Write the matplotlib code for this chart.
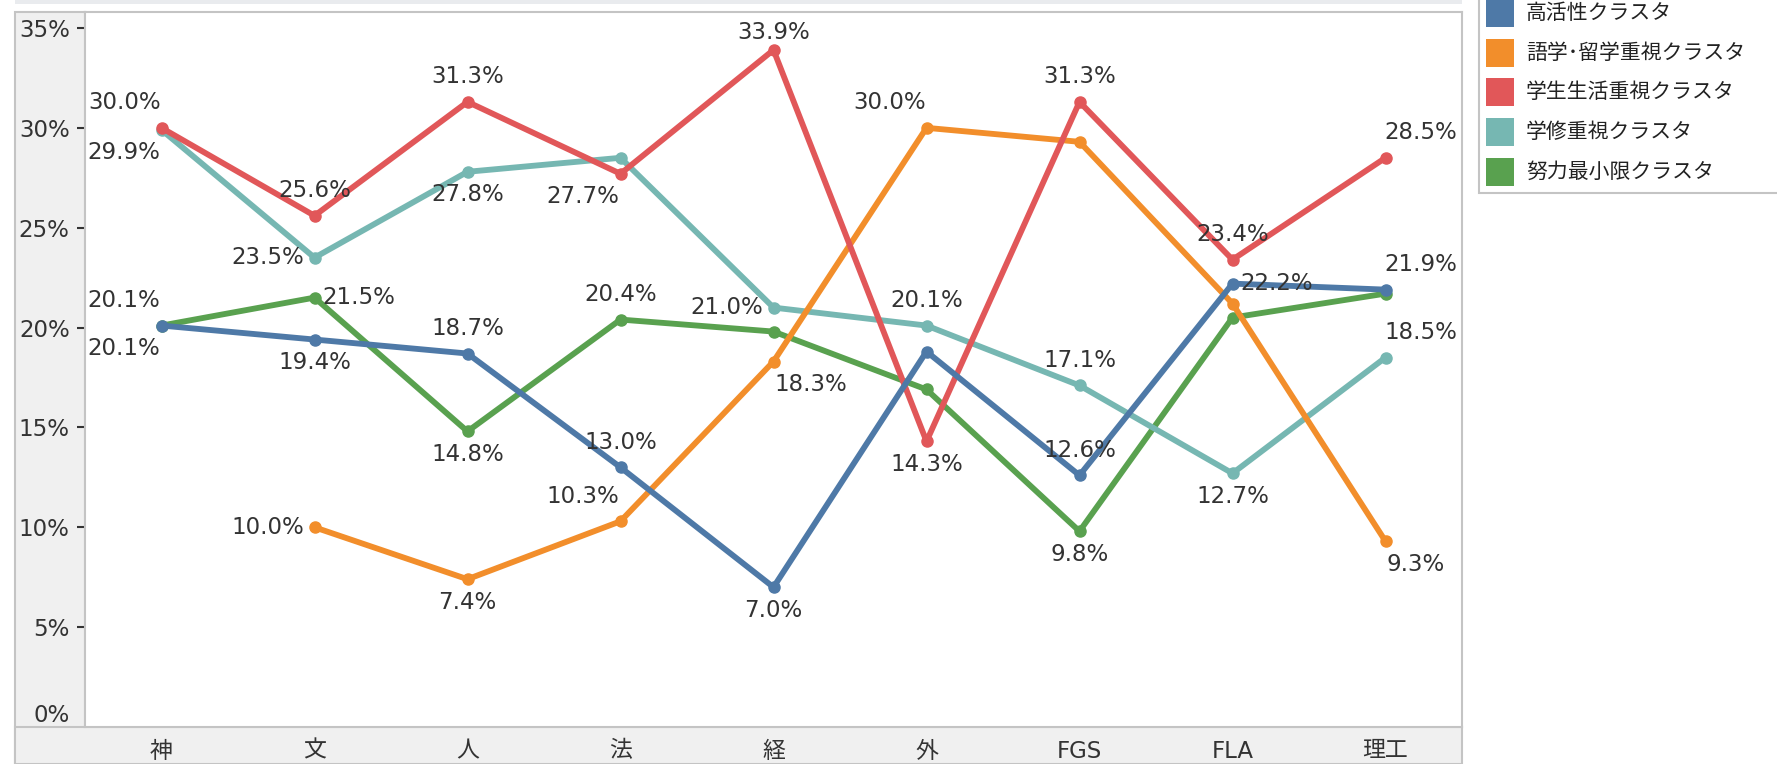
import numpy as np
import matplotlib.pyplot as plt
from matplotlib.patches import Rectangle

W, H = 1777, 764

categories = ['神', '文', '人', '法', '経', '外', 'FGS', 'FLA', '理工']
series_names = ['高活性クラスタ', '語学･留学重視クラスタ', '学生生活重視クラスタ',
                '学修重視クラスタ', '努力最小限クラスタ']
colors = ['#4e79a7', '#f28e2b', '#e15759', '#76b7b2', '#59a14f']

high_active = [20.1, 19.4, 18.7, 13.0, 7.0, 18.8, 12.6, 22.2, 21.9]
language = [np.nan, 10.0, 7.4, 10.3, 18.3, 30.0, 29.3, 21.2, 9.3]
student_life = [30.0, 25.6, 31.3, 27.7, 33.9, 14.3, 31.3, 23.4, 28.5]
study = [29.9, 23.5, 27.8, 28.5, 21.0, 20.1, 17.1, 12.7, 18.5]
minimal = [20.1, 21.5, 14.8, 20.4, 19.8, 16.9, 9.8, 20.5, 21.7]
values = [high_active, language, student_life, study, minimal]

# where each value label sits (None = no label shown)
label_pos = [
    ['bl', 'b', 'a', 'a', 'b', None, 'a', 'r', 'ar'],
    [None, 'l', 'b', 'al', 'br', 'al', None, None, 'br'],
    ['al', 'a', 'a', 'bl', 'at', 'b', 'a', 'a', 'ar'],
    ['bl', 'l', 'b', None, 'l', 'a', 'a', 'b', 'ar'],
    ['al', 'r', 'b', 'a', None, None, 'b', None, None],
]
PLACE = {'a': (0, 25, 'center'), 'at': (0, 17, 'center'), 'b': (0, -23, 'center'),
         'l': (-10, 0, 'right'), 'r': (8, 0, 'left'),
         'al': (-1, 25, 'right'), 'bl': (-1, -23, 'right'),
         'ar': (-1, 25, 'left'), 'br': (1, -23, 'left')}

TXT = '#333333'
EDGE = '#c4c4c4'
PANEL = '#f0f0f0'
plt.rcParams['font.family'] = ['DejaVu Sans', 'Noto Sans CJK JP']


def fx(px):
    return px / W


def fy(py):
    return 1 - py / H


fig = plt.figure(figsize=(W / 100, H / 100), dpi=100, facecolor='white')

# tableau-like header / panels (behind the axes)
fig.patches.append(Rectangle((fx(15), fy(4)), fx(1462) - fx(15), 4 / H, zorder=-2,
                             transform=fig.transFigure, facecolor='#e9ebee', edgecolor='none'))
fig.patches.append(Rectangle((fx(15), fy(764)), fx(85) - fx(15), (764 - 12) / H, zorder=-2,
                             transform=fig.transFigure, facecolor=PANEL, edgecolor=EDGE, lw=1.5))
fig.patches.append(Rectangle((fx(15), fy(764)), fx(1462) - fx(15), (764 - 727) / H, zorder=-2,
                             transform=fig.transFigure, facecolor=PANEL, edgecolor=EDGE, lw=1.5))

ax = fig.add_axes([fx(85), fy(727), fx(1462) - fx(85), (727 - 12) / H])
ax.set_facecolor('white')
x = np.arange(len(categories))

order = [4, 3, 1, 2, 0]
for k in order:
    ax.plot(x, values[k], color=colors[k], lw=4.2, marker='o', markersize=8,
            solid_joinstyle='round', zorder=3)

for k in range(len(values)):
    for i, v in enumerate(values[k]):
        p = label_pos[k][i]
        if p is None or np.isnan(v):
            continue
        dx, dy, ha = PLACE[p]
        ax.annotate(f'{v:.1f}%', (i, v), xytext=(dx, dy), textcoords='offset pixels',
                    ha=ha, va='center', fontsize=16.5, color=TXT, zorder=5)

ax.set_xlim(-0.5, len(categories) - 0.5)
ax.set_ylim(0, 35.8)
yt = np.arange(0, 36, 5)
ax.set_yticks(yt)
ax.set_yticklabels([f'{t}%' for t in yt])
ax.set_xticks(x)
ax.set_xticklabels(categories)
ax.tick_params(axis='y', length=6, width=1.5, color=TXT, pad=5, labelsize=16.5, labelcolor=TXT)
ax.tick_params(axis='x', length=0, pad=9, labelsize=16.5, labelcolor=TXT)
ax.yaxis.get_major_ticks()[0].tick1line.set_visible(False)
ax.get_yticklabels()[0].set_va('bottom')
for s in ax.spines.values():
    s.set_color(EDGE)
    s.set_linewidth(1.5)

# legend box
fig.patches.append(Rectangle((fx(1479), fy(193)), fx(1800) - fx(1479), 210 / H,
                             transform=fig.transFigure, facecolor='white', edgecolor=EDGE, lw=1.5))
for k, name in enumerate(series_names):
    cy = 13 + 39.7 * k
    fig.patches.append(Rectangle((fx(1486), fy(cy + 14)), 28 / W, 28 / H,
                                 transform=fig.transFigure, facecolor=colors[k], edgecolor='none'))
    fig.text(fx(1526), fy(cy), name, fontsize=15, color='#222222', va='center', ha='left',
             family=['Noto Sans CJK JP', 'DejaVu Sans'])

fig.savefig('out.png', dpi=100)
